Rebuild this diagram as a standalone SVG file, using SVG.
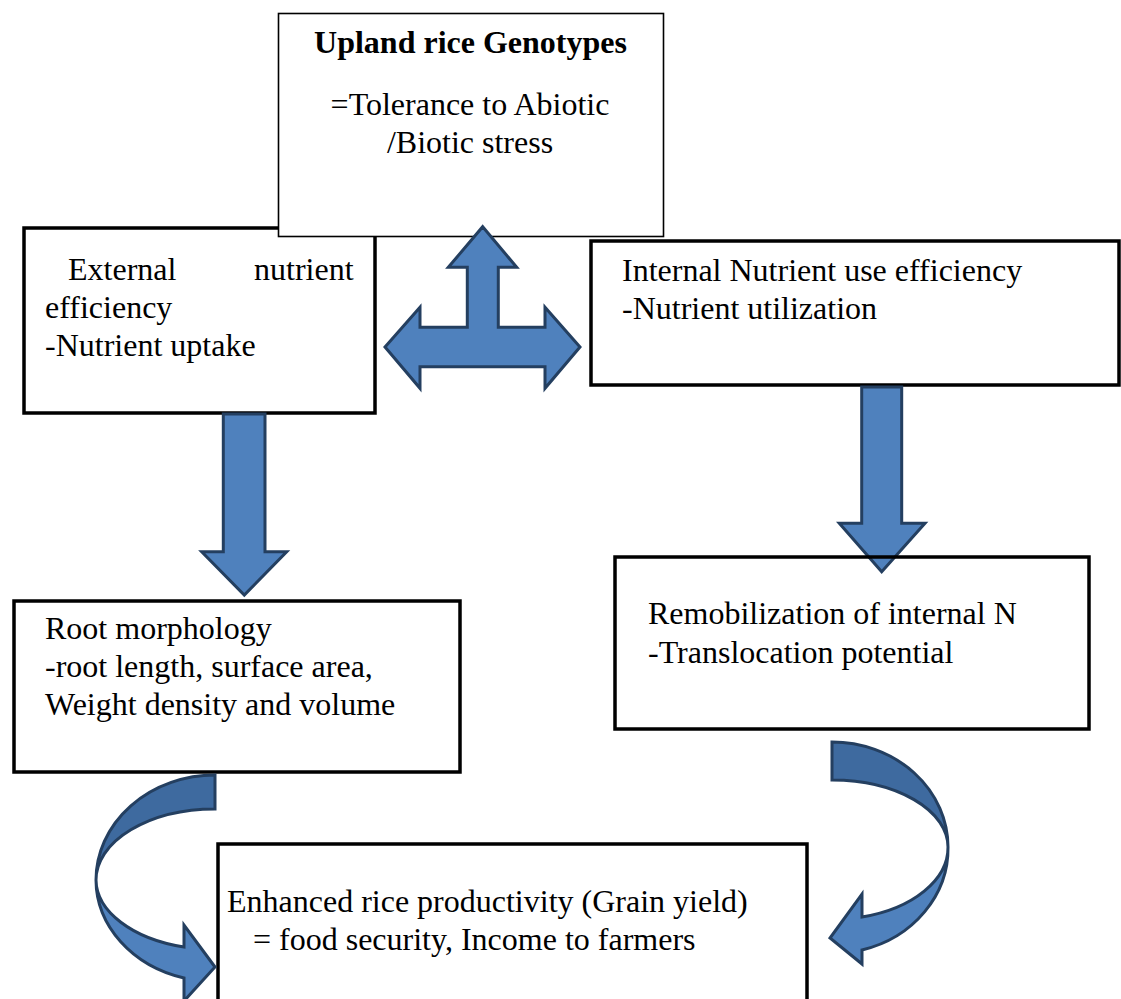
<svg xmlns="http://www.w3.org/2000/svg" width="1121" height="999" viewBox="0 0 1121 999">
<style>
text{font-family:"Liberation Serif","Times New Roman",serif;font-size:32px;fill:#000}
.b{font-weight:bold}
.box{fill:#fff;stroke:#000;stroke-width:3.5}
.thin{fill:#fff;stroke:#000;stroke-width:1.6}
.arr{fill:#4f81bd;stroke:#243f60;stroke-width:3;stroke-linejoin:miter}
.dk{fill:#3e6a9f;stroke:#243f60;stroke-width:3}
</style>
<rect width="1121" height="999" fill="#fff"/>
<g id="external">
<rect class="box" x="24" y="228" width="351" height="185"/>
<text x="68" y="280">External</text>
<text x="254" y="280">nutrient</text>
<text x="45" y="318">efficiency</text>
<text x="45" y="356">-Nutrient uptake</text>
</g>
<g id="internal">
<rect class="box" x="591" y="241" width="528" height="144"/>
<text x="622" y="281">Internal Nutrient use efficiency</text>
<text x="622" y="319">-Nutrient utilization</text>
</g>
<g id="genotypes">
<rect class="thin" x="278.5" y="13.5" width="385" height="223"/>
<text class="b" x="470.5" y="53" text-anchor="middle">Upland rice Genotypes</text>
<text x="470" y="115" text-anchor="middle">=Tolerance to Abiotic</text>
<text x="470" y="153" text-anchor="middle">/Biotic stress</text>
</g>
<g id="root">
<rect class="box" x="14" y="601" width="446" height="171"/>
<text x="45" y="639">Root morphology</text>
<text x="45" y="677">-root length, surface area,</text>
<text x="45" y="715">Weight density and volume</text>
</g>
<g id="enhanced">
<rect class="box" x="218" y="844" width="589" height="170"/>
<text x="227" y="912">Enhanced rice productivity (Grain yield)</text>
<text x="253" y="950">= food security, Income to farmers</text>
</g>
<g id="connectors">
<polygon class="arr" points="482.7,226.7 516.7,267.3 498.3,267.3 498.3,327.3 545,327.3 545,307.3 580,347 545,388.3 545,366.7 420,366.7 420,388.3 385,347 420,307.3 420,327.3 467.3,327.3 467.3,267.3 448.3,267.3"/>
<polygon class="arr" points="223.3,414 265,414 265,551.7 286.7,551.7 244.3,595 201.7,551.7 223.3,551.7"/>
<polygon class="arr" points="861.7,387 901.7,387 901.7,523.3 925,523.3 881.7,571.7 839.3,523.3 861.7,523.3"/>
<path class="dk" d="M215 775 A119 105 0 0 0 96 880 A119 71 0 0 1 215 809 Z"/>
<path class="arr" d="M96 880 A119 102 0 0 0 184 978 L184 1001 L215 967 L184 925 L184 947 A119 70 0 0 1 96 880 Z"/>
<path class="dk" d="M832 742 A116 105 0 0 1 948 847 A116 67 0 0 0 832 780 Z"/>
<path class="arr" d="M948 847 A116 105 0 0 1 862 950 L862 964 L830 938 L862 894 L862 917 A116 72 0 0 0 948 847 Z"/>
</g>
<g id="remobilization">
<rect x="615" y="557" width="474" height="172" fill="none" stroke="#000" stroke-width="3.5"/>
<text x="648" y="624">Remobilization of internal N</text>
<text x="648" y="663">-Translocation potential</text>
</g>
</svg>
